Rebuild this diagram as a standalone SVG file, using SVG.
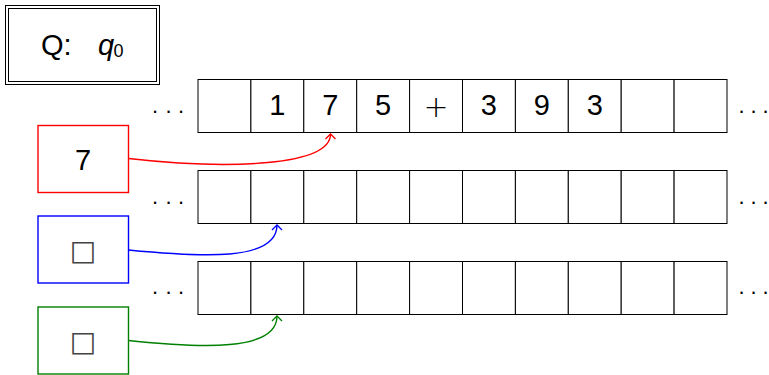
<svg xmlns="http://www.w3.org/2000/svg" width="769" height="375" viewBox="0 0 769 375">
<style>
.t{font-family:"Liberation Sans",Arial,sans-serif;font-size:29px;fill:#000;text-anchor:middle}
.dots{font-family:"Liberation Sans",Arial,sans-serif;font-size:22px;fill:#000}
.cell{fill:#fff;stroke:#000;stroke-width:1}
.box{fill:#fff;stroke-width:1.4}
.sq{font-family:"DejaVu Sans",sans-serif;font-size:28px;fill:#444;text-anchor:middle}
.c{fill:none;stroke-width:1.4}
</style>
<defs>
<marker id="ar" markerUnits="userSpaceOnUse" viewBox="-6 -6 7 12" markerWidth="7" markerHeight="12" refX="0" refY="0" orient="auto"><path d="M-5,-5 Q-1.5,-1.5 0,0 Q-1.5,1.5 -5,5" fill="none" stroke="#f00" stroke-width="1.3"/></marker>
<marker id="ab" markerUnits="userSpaceOnUse" viewBox="-6 -6 7 12" markerWidth="7" markerHeight="12" refX="0" refY="0" orient="auto"><path d="M-5,-5 Q-1.5,-1.5 0,0 Q-1.5,1.5 -5,5" fill="none" stroke="#00f" stroke-width="1.3"/></marker>
<marker id="ag" markerUnits="userSpaceOnUse" viewBox="-6 -6 7 12" markerWidth="7" markerHeight="12" refX="0" refY="0" orient="auto"><path d="M-5,-5 Q-1.5,-1.5 0,0 Q-1.5,1.5 -5,5" fill="none" stroke="#008000" stroke-width="1.3"/></marker>
</defs>
<rect width="769" height="375" fill="#fff"/>
<g id="state">
<rect x="5.5" y="5.5" width="154" height="79" fill="#fff" stroke="#000" stroke-width="1"/>
<rect x="8.5" y="8.5" width="148" height="73" fill="none" stroke="#000" stroke-width="1"/>
<text class="t" x="41" y="55" style="text-anchor:start">Q:</text>
<text class="t" x="98" y="55" style="text-anchor:start;font-style:italic">q</text>
<text x="113.5" y="57" style="font-family:'Liberation Sans',Arial,sans-serif;font-size:18px">0</text>
</g>
<g id="tape1">
<rect class="cell" x="198" y="79.5" width="52.9" height="53"/>
<rect class="cell" x="250.9" y="79.5" width="52.9" height="53"/>
<rect class="cell" x="303.8" y="79.5" width="52.9" height="53"/>
<rect class="cell" x="356.7" y="79.5" width="52.9" height="53"/>
<rect class="cell" x="409.6" y="79.5" width="52.9" height="53"/>
<rect class="cell" x="462.5" y="79.5" width="52.9" height="53"/>
<rect class="cell" x="515.4" y="79.5" width="52.9" height="53"/>
<rect class="cell" x="568.3" y="79.5" width="52.9" height="53"/>
<rect class="cell" x="621.2" y="79.5" width="52.9" height="53"/>
<rect class="cell" x="674.1" y="79.5" width="52.9" height="53"/>
<text class="t" x="277.3" y="114.5">1</text>
<text class="t" x="330.2" y="114.5">7</text>
<text class="t" x="383.1" y="114.5">5</text>
<text x="436" y="117" style="font-family:'DejaVu Sans',sans-serif;font-size:30px;font-weight:200;text-anchor:middle;fill:#000">+</text>
<text class="t" x="488.9" y="114.5">3</text>
<text class="t" x="541.8" y="114.5">9</text>
<text class="t" x="594.7" y="114.5">3</text>
<text class="dots" x="152 165.5 178" y="113">...</text>
<text class="dots" x="738.5 750.5 762.5" y="113">...</text>
</g>
<g id="tape2">
<rect class="cell" x="198" y="170.5" width="52.9" height="53"/>
<rect class="cell" x="250.9" y="170.5" width="52.9" height="53"/>
<rect class="cell" x="303.8" y="170.5" width="52.9" height="53"/>
<rect class="cell" x="356.7" y="170.5" width="52.9" height="53"/>
<rect class="cell" x="409.6" y="170.5" width="52.9" height="53"/>
<rect class="cell" x="462.5" y="170.5" width="52.9" height="53"/>
<rect class="cell" x="515.4" y="170.5" width="52.9" height="53"/>
<rect class="cell" x="568.3" y="170.5" width="52.9" height="53"/>
<rect class="cell" x="621.2" y="170.5" width="52.9" height="53"/>
<rect class="cell" x="674.1" y="170.5" width="52.9" height="53"/>
<text class="dots" x="152 165.5 178" y="204">...</text>
<text class="dots" x="738.5 750.5 762.5" y="204">...</text>
</g>
<g id="tape3">
<rect class="cell" x="198" y="261.5" width="52.9" height="53"/>
<rect class="cell" x="250.9" y="261.5" width="52.9" height="53"/>
<rect class="cell" x="303.8" y="261.5" width="52.9" height="53"/>
<rect class="cell" x="356.7" y="261.5" width="52.9" height="53"/>
<rect class="cell" x="409.6" y="261.5" width="52.9" height="53"/>
<rect class="cell" x="462.5" y="261.5" width="52.9" height="53"/>
<rect class="cell" x="515.4" y="261.5" width="52.9" height="53"/>
<rect class="cell" x="568.3" y="261.5" width="52.9" height="53"/>
<rect class="cell" x="621.2" y="261.5" width="52.9" height="53"/>
<rect class="cell" x="674.1" y="261.5" width="52.9" height="53"/>
<text class="dots" x="152 165.5 178" y="294">...</text>
<text class="dots" x="738.5 750.5 762.5" y="294">...</text>
</g>
<g id="head1">
<rect class="box" x="38" y="125.5" width="90.5" height="67" stroke="#f00"/>
<text class="t" x="83" y="169.5">7</text>
</g>
<g id="head2">
<rect class="box" x="38" y="216" width="90.5" height="67" stroke="#00f"/>
<text class="sq" x="83" y="260">□</text>
</g>
<g id="head3">
<rect class="box" x="38" y="307" width="90.5" height="67" stroke="#008000"/>
<text class="sq" x="83" y="351">□</text>
</g>
<g id="connectors">
<path class="c" stroke="#f00" d="M128.5,158.5 C230,170 330.5,166 330.5,134" marker-end="url(#ar)"/>
<path class="c" stroke="#00f" d="M128.5,250 C200,257 277,262 277,225" marker-end="url(#ab)"/>
<path class="c" stroke="#008000" d="M128.5,340.5 C200,348 277,352 277,316" marker-end="url(#ag)"/>
</g>
</svg>
